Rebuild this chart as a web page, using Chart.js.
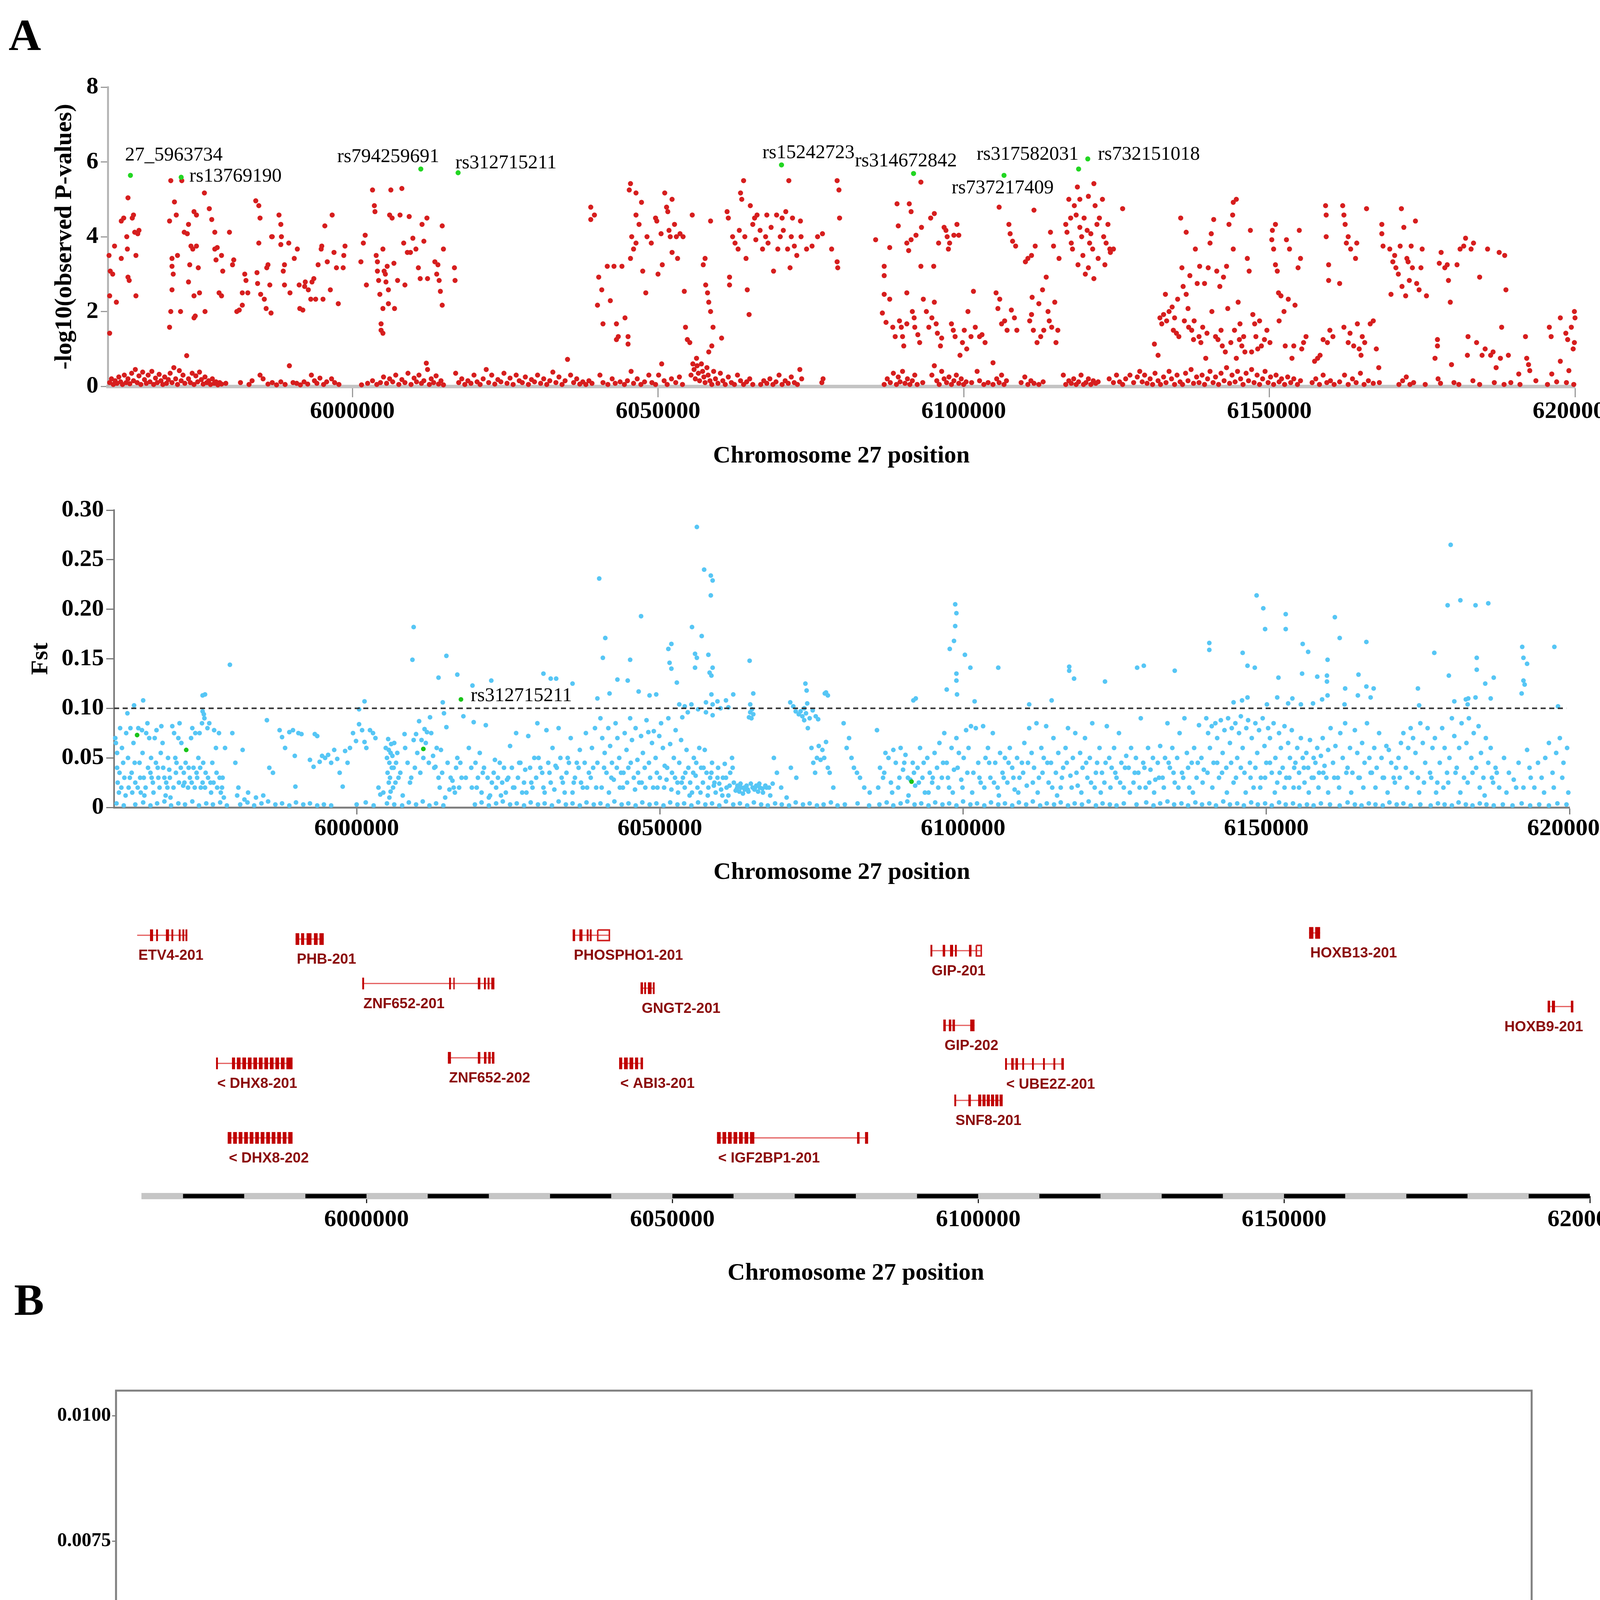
<!DOCTYPE html>
<html>
<head>
<meta charset="utf-8">
<script src="https://cdn.jsdelivr.net/npm/chart.js@4.4.1/dist/chart.umd.min.js"></script>
<style>
  body { margin: 0; background: #fff; width: 4341px; height: 5132px; position: relative; overflow: hidden; }
  canvas { position: absolute; left: 0; }
  .tag { position: absolute; font: bold 115px "Liberation Serif", serif; line-height: 115px; }
</style>
</head>
<body>
<div class="tag" style="left:22px;top:32px">A</div>
<div class="tag" style="left:36px;top:3270px">B</div>
<canvas id="mh" width="4341" height="1250" style="top:0;width:4341px;height:1250px"></canvas>
<canvas id="fst" width="4341" height="1050" style="top:1250px;width:4341px;height:1050px"></canvas>
<canvas id="genes" width="4341" height="1000" style="top:2300px;width:4341px;height:1000px"></canvas>
<canvas id="pi" width="4341" height="1832" style="top:3300px;width:4341px;height:1832px"></canvas>
<script>
// ---------- data (positions in kb on chromosome 27) ----------
const posTicks = [6000000, 6050000, 6100000, 6150000, 6200000];

// labelled SNPs in the association panel
const snpIds = ['27_5963734', 'rs13769190', 'rs794259691', 'rs312715211', 'rs15242723',
  'rs314672842', 'rs737217409', 'rs317582031', 'rs732151018'];
const snpKb = [5963.7, 5972.0, 6011.2, 6017.3, 6070.2, 6091.8, 6106.6, 6118.8, 6120.3];
const snpLogP = [5.64, 5.59, 5.81, 5.71, 5.92, 5.69, 5.64, 5.81, 6.08];

// -log10(p) of the other SNPs, signal part
const mhSignal = [
  [5960.2,3.5],[5960.4,3.08],[5960.8,3.0],[5960.3,1.42],[5960.3,2.42],[5961.1,3.75],[5961.4,2.25],[5962.2,3.42],[5962.2,4.42],[5962.6,4.5],[5963.1,4.0],[5963.2,3.67],[5963.3,5.04],[5963.3,2.92],[5963.5,2.83],[5964.0,4.5],[5964.2,4.58],[5964.4,4.12],[5964.9,4.08],[5964.6,3.5],[5964.6,2.42],[5965.1,4.17],
  [5970.1,4.42],[5970.3,5.5],[5970.9,4.93],[5971.2,4.58],[5970.5,3.42],[5970.5,3.21],[5970.7,3.0],[5970.5,2.58],[5970.3,2.0],[5970.1,1.58],[5971.4,3.5],[5971.9,2.0],[5972.1,5.5],[5972.5,4.12],[5973.0,4.08],[5973.2,4.33],[5973.2,2.79],[5973.4,3.25],[5973.6,3.75],[5973.9,3.67],[5974.1,4.67],[5974.1,2.42],[5974.3,1.88],[5974.1,1.83],[5974.5,4.58],[5974.8,3.17],[5975.0,2.5],[5974.5,3.75],[5975.8,5.17],[5975.9,2.0],[5976.6,4.75],[5977.0,4.46],[5977.5,4.12],[5977.5,3.67],[5977.9,3.71],[5977.7,3.38],[5978.6,3.5],[5978.2,2.5],[5978.6,2.42],[5978.8,3.08],[5979.9,4.12],[5980.4,3.25],[5980.6,3.38],[5981.1,2.0],[5981.5,2.04],[5982.0,2.17],[5982.0,2.5],[5982.4,3.0],[5982.6,2.83],[5982.9,2.5],[5984.2,4.96],[5984.7,4.83],[5984.9,4.5],[5984.7,3.83],[5984.4,3.04],[5984.5,2.75],[5985.0,2.46],[5985.6,2.33],[5985.9,2.08],[5986.0,3.17],[5986.2,3.25],[5986.7,1.96],[5986.5,2.71],[5986.8,4.0],[5986.9,4.0],[5988.0,4.58],[5988.3,4.33],[5988.4,4.0],[5988.3,3.79],[5988.7,3.08],[5988.9,2.71],[5988.9,3.25],[5989.6,3.83],[5989.8,2.5],[5990.5,3.42],[5991.0,3.67],[5991.3,2.71],[5991.4,2.08],[5991.9,2.04],[5992.2,2.67],[5992.3,2.79],[5992.8,2.58],[5993.2,2.33],[5993.4,2.79],[5993.7,2.88],[5994.0,2.33],[5994.4,3.25],[5994.9,3.67],[5995.0,3.75],[5995.2,2.33],[5995.5,4.29],[5995.9,3.33],[5996.4,2.58],[5996.7,4.58],[5997.0,3.58],[5997.4,3.17],[5997.7,2.21],[5998.5,3.17],[5998.6,3.5],[5998.8,3.75],
  [6001.4,3.33],[6001.8,3.83],[6002.1,4.04],[6002.3,2.71],[6003.3,5.25],[6003.6,4.83],[6003.7,4.67],[6003.9,3.5],[6004.1,3.33],[6004.1,3.08],[6004.3,2.83],[6004.5,2.46],[6004.7,1.67],[6004.7,1.5],[6005.0,1.42],[6005.0,2.08],[6005.0,3.67],[6005.2,3.08],[6005.4,3.0],[6005.5,2.79],[6005.7,3.21],[6005.9,2.58],[6005.9,2.21],[6006.1,4.58],[6006.3,5.25],[6006.5,4.5],[6006.8,3.29],[6006.9,2.08],[6007.4,2.83],[6008.1,5.29],[6007.8,4.58],[6008.4,3.83],[6008.6,2.71],[6009.0,3.58],[6009.3,4.54],[6009.5,3.58],[6009.9,3.96],[6010.4,3.67],[6010.8,3.17],[6011.1,2.88],[6011.4,4.33],[6011.7,3.88],[6012.2,4.5],[6012.3,2.88],[6013.5,3.33],[6013.8,3.0],[6014.0,3.25],[6014.2,2.83],[6014.4,2.54],[6014.7,2.17],[6014.7,4.29],[6014.9,3.67],[6016.7,3.17],[6016.8,2.83],
  [6039.0,4.79],[6039.0,4.46],[6039.6,4.58],[6040.1,2.17],[6040.3,2.92],[6040.8,2.58],[6041.0,1.67],[6042.2,2.29],[6041.7,3.21],[6042.8,3.21],[6043.2,1.67],[6043.2,1.25],[6043.5,1.33],[6044.1,3.21],[6044.6,1.83],[6045.1,1.33],[6045.1,1.13],[6045.3,5.25],[6045.5,5.42],[6045.5,3.42],[6045.7,4.0],[6046.0,3.67],[6046.4,5.17],[6046.4,4.58],[6046.4,3.83],[6046.9,4.33],[6047.3,4.92],[6047.5,3.08],[6048.0,2.5],[6048.2,4.0],[6048.9,3.83],[6049.6,4.5],[6049.8,4.42],[6050.0,3.0],[6050.5,4.08],[6050.7,3.25],[6051.1,5.17],[6051.4,4.79],[6051.6,4.67],[6051.8,4.17],[6052.0,4.0],[6052.3,3.58],[6052.3,5.0],[6052.7,4.33],[6053.0,4.0],[6053.2,3.42],[6053.6,4.08],[6054.1,4.0],[6054.3,2.54],[6054.5,1.58],[6054.8,1.25],[6055.2,1.17],[6055.6,4.58],[6056.3,0.75],[6057.7,3.42],[6057.4,3.25],[6057.8,2.71],[6058.1,2.5],[6058.3,2.25],[6058.6,2.0],[6058.6,4.42],[6059.0,1.58],[6058.8,1.08],[6058.3,0.92],[6060.4,1.29],[6061.3,4.67],[6061.5,4.5],[6061.7,2.92],[6061.7,2.71],[6062.2,4.0],[6062.6,3.83],[6063.1,3.67],[6063.3,4.17],[6063.5,5.17],[6063.7,5.0],[6064.0,5.5],[6064.2,4.0],[6064.4,3.42],[6064.6,2.58],[6064.9,1.92],[6065.1,4.83],[6065.5,4.33],[6065.8,4.5],[6066.0,3.92],[6066.2,4.58],[6066.7,4.17],[6067.1,3.67],[6067.6,4.0],[6067.8,4.58],[6068.0,3.83],[6068.5,4.25],[6068.9,3.08],[6069.4,4.58],[6069.6,3.67],[6070.0,4.0],[6070.3,4.5],[6070.5,4.17],[6070.9,4.67],[6071.2,3.67],[6071.4,5.5],[6071.6,3.17],[6071.8,4.0],[6072.0,4.5],[6072.3,3.75],[6072.7,3.5],[6073.3,4.42],[6073.4,4.0],[6074.3,3.67],[6075.2,3.75],[6076.1,4.0],[6076.9,4.08],[6078.4,3.67],[6079.3,5.5],[6079.6,5.25],[6079.7,4.5],[6079.3,3.33],[6079.4,3.17],
  [6085.6,3.92],[6087.0,3.21],[6087.0,2.96],[6087.0,2.46],[6086.7,1.96],[6087.3,1.71],[6087.9,2.33],[6087.9,3.71],[6088.4,1.58],[6088.8,1.33],[6089.1,4.88],[6089.3,4.29],[6089.5,1.75],[6089.8,1.58],[6090.0,1.33],[6090.2,1.08],[6090.7,3.83],[6090.7,2.5],[6090.7,1.67],[6091.0,3.63],[6091.1,4.88],[6091.4,4.67],[6091.4,3.92],[6091.6,2.0],[6091.9,1.83],[6092.0,1.58],[6092.2,4.04],[6092.5,1.38],[6092.8,1.17],[6093.0,3.21],[6093.0,5.46],[6093.1,4.25],[6093.4,2.33],[6093.9,2.0],[6094.3,1.58],[6094.6,4.5],[6094.8,1.83],[6095.1,3.21],[6095.2,2.25],[6095.2,4.62],[6095.5,1.67],[6095.7,1.42],[6095.9,3.83],[6096.2,1.08],[6096.4,1.29],[6096.8,4.25],[6097.1,4.17],[6097.3,4.0],[6097.5,3.67],[6097.7,3.83],[6098.0,1.67],[6098.3,1.5],[6098.4,4.04],[6098.6,1.33],[6098.9,4.33],[6099.2,4.04],[6099.4,0.83],[6099.8,1.17],[6100.1,1.5],[6100.5,1.0],[6100.7,2.0],[6101.2,1.33],[6101.6,2.54],[6101.9,1.58],[6102.6,1.33],[6103.0,1.38],[6103.5,1.17],
  [6104.8,0.63],[6105.3,2.5],[6105.8,4.79],[6105.6,2.08],[6105.9,2.33],[6106.2,1.67],[6106.7,1.75],[6107.1,1.5],[6107.4,4.33],[6107.6,4.08],[6107.8,2.04],[6108.0,3.88],[6108.3,1.83],[6108.5,3.75],[6108.7,1.5],
  [6110.1,3.33],[6110.5,3.42],[6110.8,1.75],[6111.1,1.92],[6111.2,2.38],[6111.1,3.5],[6111.4,1.5],[6111.5,4.71],[6111.7,3.75],[6112.0,1.17],[6112.3,2.21],[6112.6,1.33],[6112.9,2.58],[6113.1,1.5],[6113.5,2.92],[6113.8,2.0],[6114.0,1.75],[6114.2,4.12],[6114.4,1.58],[6114.7,3.75],[6114.9,2.25],[6115.1,1.17],[6115.4,1.5],[6115.6,3.42],
  [6116.7,4.33],[6116.9,4.12],[6117.2,5.0],[6117.5,4.5],[6117.6,3.83],[6117.8,3.67],[6118.1,4.83],[6118.4,4.58],[6118.6,5.33],[6118.7,3.25],[6119.0,5.0],[6119.0,4.25],[6119.3,4.0],[6119.5,3.5],[6119.7,4.5],[6119.9,3.0],[6120.2,4.17],[6120.4,5.08],[6120.4,3.17],[6120.6,3.83],[6120.8,4.08],[6121.1,3.67],[6121.3,5.42],[6121.3,2.88],[6121.5,4.83],[6121.8,4.33],[6122.0,3.42],[6122.2,4.5],[6122.7,5.0],[6122.9,4.0],[6123.1,3.25],[6123.3,3.83],[6123.6,4.33],[6123.9,3.67],[6124.0,3.58],[6124.5,3.67],[6126.0,4.75],
  [6131.2,1.13],[6131.8,0.83],[6132.1,1.83],[6132.4,1.67],[6132.7,1.92],[6133.0,2.46],[6133.2,1.75],[6133.6,2.0],[6134.1,2.12],[6134.3,1.5],[6134.5,1.83],[6134.8,1.42],[6135.0,2.33],[6135.2,1.33],[6135.5,4.5],[6135.7,3.17],[6135.9,2.67],[6136.1,1.75],[6136.4,4.12],[6136.4,2.46],[6136.7,2.08],[6136.8,1.58],[6137.0,2.96],[6137.3,1.5],[6137.6,1.25],[6137.7,1.75],[6137.9,3.67],[6138.2,2.75],[6138.5,1.33],[6138.6,3.21],[6138.8,1.17],[6139.1,1.58],[6139.4,2.75],[6139.6,0.75],[6139.8,1.42],[6140.0,3.17],[6140.3,3.83],[6140.5,4.08],[6140.6,2.0],[6140.9,4.46],[6141.2,1.33],[6141.4,3.08],[6141.6,1.25],[6141.9,2.67],[6142.1,1.5],[6142.3,1.08],[6142.5,2.92],[6142.8,0.92],[6143.0,3.21],[6143.2,2.08],[6143.4,4.33],[6143.7,1.17],[6144.0,4.58],[6144.1,4.92],[6144.1,3.67],[6144.3,1.5],[6144.6,5.0],[6144.6,0.75],[6144.9,2.25],[6145.1,1.25],[6145.2,1.67],[6145.5,1.08],[6145.8,1.33],[6146.0,0.92],[6146.4,3.42],[6146.7,3.08],[6146.9,4.17],[6147.1,0.92],[6147.3,1.92],[6147.6,1.67],[6147.8,1.33],[6148.1,1.0],[6148.4,1.75],[6148.7,1.08],[6149.2,1.25],[6149.6,1.5],[6150.1,1.17],[6150.4,3.92],[6150.5,4.17],[6150.7,3.67],[6151.0,4.33],[6151.0,3.25],[6151.3,3.08],[6151.5,2.5],[6151.6,1.75],[6151.9,2.42],[6152.4,2.0],[6152.6,1.08],[6152.8,3.92],[6153.1,2.33],[6153.3,3.67],[6153.7,0.75],[6154.0,1.08],[6154.2,2.17],[6154.7,3.17],[6154.9,4.17],[6155.1,3.42],[6155.3,1.0],[6155.6,1.17],[6156.0,1.33],
  [6157.4,0.67],[6157.9,0.75],[6158.3,0.83],[6158.8,1.25],[6159.2,4.83],[6159.3,4.58],[6159.3,4.0],[6159.5,1.17],[6159.7,3.25],[6159.7,2.83],[6159.9,1.5],[6160.4,1.33],[6161.5,2.75],[6162.0,4.83],[6162.2,1.58],[6162.2,4.58],[6162.4,4.33],[6162.6,3.83],[6162.9,4.0],[6162.9,1.17],[6163.2,1.42],[6163.3,3.67],[6163.8,1.08],[6164.1,3.42],[6164.3,3.83],[6164.4,1.67],[6164.7,1.0],[6165.0,0.83],[6165.2,1.33],[6165.6,1.17],[6165.9,4.75],[6166.5,1.67],[6167.0,1.75],[6167.5,1.0],[6167.9,0.5],[6168.4,4.33],[6168.4,4.08],[6168.6,3.75],[6169.7,3.67],[6169.9,2.46],[6170.2,3.33],[6170.5,3.5],[6170.7,3.17],[6171.1,3.0],[6171.4,3.75],[6171.6,4.75],[6171.7,2.67],[6172.0,4.25],[6172.3,2.42],[6172.5,3.42],[6172.7,3.33],[6172.9,2.83],[6173.2,3.75],[6173.4,3.17],[6173.9,4.42],[6174.1,2.75],[6174.5,2.58],[6174.8,3.17],[6175.0,3.67],[6175.7,2.42],[6177.1,0.75],[6177.5,1.25],[6177.5,1.08],[6177.8,3.29],[6178.1,3.58],[6178.7,3.17],[6179.1,3.25],[6179.3,2.83],[6179.6,2.25],[6179.8,0.58],[6180.7,3.25],[6181.2,3.67],[6181.8,3.75],[6182.1,3.96],[6182.4,0.83],[6182.5,1.33],[6183.0,3.67],[6183.4,3.83],[6183.9,1.17],[6184.4,2.92],[6184.8,0.83],[6185.3,1.0],[6185.7,3.67],[6186.2,0.83],[6186.6,0.92],[6187.1,0.5],[6187.6,3.58],[6187.8,0.75],[6188.0,1.58],[6188.5,3.5],[6188.7,2.58],[6189.1,0.83],[6190.8,0.33],[6191.9,1.33],[6192.1,0.75],[6192.4,0.58],[6192.6,0.42],[6195.8,1.58],[6196.1,1.33],[6196.2,0.33],[6197.6,1.83],[6197.6,0.67],[6198.5,1.42],[6198.8,1.25],[6199.0,0.42],[6199.4,1.58],[6199.7,1.0],[6199.9,2.0],[6199.9,1.17],[6200.0,1.83]
];

// -log10(p) of the other SNPs, near-zero band
const mhBase = [
  [5960.3,0.1],[5960.6,0.2],[5960.9,0.05],[5961.2,0.15],[5961.5,0.08],[5961.8,0.25],[5962.1,0.12],[5962.4,0.05],[5962.7,0.3],[5963.0,0.1],[5963.3,0.2],[5963.6,0.07],[5963.9,0.35],[5964.2,0.15],[5964.5,0.45],[5964.8,0.1],[5965.1,0.28],[5965.4,0.05],[5965.7,0.38],[5966.0,0.18],[5966.3,0.08],[5966.6,0.3],[5966.9,0.12],[5967.2,0.4],[5967.5,0.05],[5967.8,0.22],[5968.1,0.1],[5968.4,0.32],[5968.7,0.15],[5969.0,0.05],[5969.3,0.25],[5969.6,0.08],[5969.9,0.18],[5970.2,0.35],[5970.5,0.1],[5970.8,0.5],[5971.1,0.2],[5971.4,0.05],[5971.7,0.42],[5972.0,0.15],[5972.3,0.3],[5972.6,0.08],[5972.9,0.82],[5973.2,0.2],[5973.5,0.1],[5973.8,0.35],[5974.1,0.05],[5974.4,0.28],[5974.7,0.12],[5975.0,0.38],[5975.3,0.18],[5975.6,0.06],[5975.9,0.25],[5976.2,0.1],[5976.5,0.15],[5976.8,0.05],[5977.1,0.2],[5977.4,0.08],[5977.7,0.12],[5978.0,0.04],[5978.3,0.1],[5978.6,0.06],[5979.3,0.08],
  [5981.7,0.1],[5983.1,0.05],[5983.6,0.15],[5984.9,0.3],[5985.4,0.2],[5986.2,0.06],[5986.9,0.1],[5987.6,0.04],[5988.3,0.12],[5989.0,0.05],[5989.7,0.55],[5990.3,0.1],[5990.9,0.08],[5991.5,0.04],[5992.1,0.12],[5992.7,0.06],[5993.3,0.3],[5993.8,0.15],[5994.2,0.08],[5994.7,0.22],[5995.3,0.05],[5995.8,0.12],[5996.6,0.2],[5997.1,0.1],[5997.8,0.05],
  [6001.5,0.04],[6002.5,0.08],[6003.3,0.15],[6004.0,0.05],[6004.6,0.1],[6005.1,0.25],[6005.6,0.08],[6006.1,0.2],[6006.6,0.12],[6007.1,0.3],[6007.6,0.05],[6008.1,0.18],[6008.6,0.1],[6009.1,0.35],[6009.6,0.05],[6010.1,0.22],[6010.5,0.12],[6010.9,0.3],[6011.3,0.08],[6011.7,0.15],[6012.1,0.62],[6012.3,0.45],[6012.6,0.05],[6012.9,0.2],[6013.3,0.1],[6013.7,0.28],[6014.1,0.06],[6014.5,0.15],[6014.9,0.04],
  [6016.9,0.35],[6017.4,0.1],[6017.9,0.2],[6018.4,0.05],[6018.9,0.15],[6019.4,0.08],[6019.9,0.3],[6020.4,0.12],[6020.9,0.05],[6021.4,0.2],[6021.9,0.45],[6022.3,0.1],[6022.8,0.3],[6023.3,0.06],[6023.8,0.18],[6024.3,0.12],[6024.8,0.35],[6025.3,0.08],[6025.8,0.22],[6026.3,0.05],[6026.8,0.3],[6027.3,0.15],[6027.8,0.1],[6028.3,0.25],[6028.8,0.05],[6029.3,0.18],[6029.8,0.12],[6030.3,0.3],[6030.8,0.08],[6031.3,0.2],[6031.8,0.05],[6032.3,0.15],[6032.8,0.38],[6033.3,0.1],[6033.8,0.25],[6034.3,0.05],[6034.8,0.15],[6035.2,0.72],[6035.7,0.3],[6036.2,0.1],[6036.7,0.2],[6037.2,0.06],[6037.7,0.12],[6038.2,0.05],[6038.7,0.15],[6039.2,0.08],
  [6040.5,0.3],[6041.0,0.1],[6041.8,0.05],[6042.5,0.2],[6043.0,0.08],[6043.8,0.12],[6044.5,0.05],[6045.0,0.15],[6045.6,0.4],[6046.0,0.08],[6046.6,0.2],[6047.2,0.05],[6047.8,0.12],[6048.5,0.3],[6049.0,0.1],[6049.6,0.05],[6050.1,0.3],[6050.6,0.6],[6051.0,0.15],[6051.5,0.05],[6052.2,0.2],[6052.9,0.1],[6053.5,0.25],[6054.0,0.05],
  [6055.4,0.3],[6055.7,0.6],[6055.9,0.45],[6056.1,0.2],[6056.4,0.55],[6056.6,0.35],[6056.8,0.15],[6057.1,0.6],[6057.3,0.4],[6057.5,0.25],[6057.7,0.1],[6058.0,0.5],[6058.2,0.3],[6058.5,0.15],[6058.8,0.05],[6059.1,0.4],[6059.4,0.2],[6059.8,0.08],[6060.2,0.35],[6060.6,0.15],[6061.0,0.05],[6061.5,0.25],[6062.0,0.1],[6062.5,0.05],[6063.0,0.3],[6063.5,0.15],[6064.0,0.05],[6064.5,0.12],[6065.0,0.2],[6065.5,0.05],
  [6066.8,0.05],[6067.3,0.15],[6067.8,0.08],[6068.3,0.2],[6068.8,0.05],[6069.3,0.12],[6069.8,0.3],[6070.3,0.05],[6070.8,0.15],[6071.3,0.08],[6071.8,0.25],[6072.3,0.1],[6072.8,0.05],[6073.2,0.45],[6073.5,0.2],[6076.8,0.1],[6077.0,0.2],
  [6087.0,0.05],[6087.5,0.2],[6088.0,0.1],[6088.5,0.35],[6089.0,0.05],[6089.3,0.25],[6089.6,0.12],[6090.0,0.4],[6090.4,0.08],[6090.8,0.2],[6091.2,0.05],[6091.6,0.15],[6092.0,0.3],[6092.4,0.05],[6093.3,0.1],
  [6094.8,0.3],[6095.2,0.55],[6095.6,0.15],[6096.0,0.05],[6096.4,0.4],[6096.8,0.2],[6097.2,0.1],[6097.6,0.25],[6098.0,0.05],[6098.4,0.15],[6098.8,0.3],[6099.2,0.08],[6099.6,0.2],[6100.0,0.05],[6100.4,0.12],[6101.3,0.1],[6102.2,0.4],[6102.6,0.15],[6103.3,0.05],[6104.0,0.1],[6104.8,0.05],
  [6105.4,0.2],[6105.8,0.1],[6106.2,0.3],[6106.6,0.05],[6107.0,0.15],[6109.4,0.1],[6110.0,0.25],[6110.5,0.05],[6111.0,0.15],[6111.5,0.08],[6112.3,0.05],[6113.0,0.12],
  [6116.3,0.3],[6116.7,0.05],[6117.2,0.15],[6117.6,0.08],[6118.0,0.2],[6118.4,0.05],[6118.8,0.12],[6119.2,0.3],[6119.6,0.05],[6120.0,0.1],[6120.4,0.2],[6120.8,0.05],[6121.2,0.15],[6121.6,0.08],[6122.0,0.12],
  [6123.8,0.2],[6124.5,0.1],[6125.0,0.3],[6125.5,0.12],[6126.0,0.05],[6126.5,0.2],[6127.2,0.3],[6127.8,0.1],[6128.4,0.25],[6128.8,0.4],[6129.2,0.12],[6129.6,0.3],[6130.0,0.08],[6130.5,0.2],[6130.9,0.05],[6131.3,0.35],[6131.8,0.15],[6132.2,0.05],[6132.7,0.25],[6133.1,0.1],[6133.6,0.4],[6134.0,0.2],[6134.5,0.05],[6134.9,0.3],[6135.4,0.12],[6135.8,0.05],[6136.3,0.35],[6136.7,0.15],[6137.2,0.45],[6137.6,0.08],[6138.1,0.25],[6138.5,0.1],[6139.0,0.3],[6139.4,0.05],[6139.9,0.2],[6140.3,0.4],[6140.8,0.1],[6141.2,0.25],[6141.7,0.05],[6142.1,0.35],[6142.6,0.15],[6143.0,0.5],[6143.5,0.08],[6143.9,0.3],[6144.4,0.12],[6144.8,0.4],[6145.3,0.2],[6145.7,0.05],[6146.2,0.35],[6146.6,0.15],[6147.1,0.45],[6147.5,0.1],[6148.0,0.3],[6148.4,0.05],[6148.9,0.2],[6149.3,0.4],[6149.8,0.1],[6150.2,0.25],[6150.7,0.05],[6151.1,0.3],[6151.6,0.12],[6152.0,0.2],[6152.5,0.05],[6153.0,0.25],[6153.5,0.1],[6154.0,0.2],[6154.6,0.05],[6155.1,0.15],
  [6157.0,0.1],[6157.6,0.2],[6158.2,0.05],[6158.8,0.3],[6159.4,0.1],[6160.0,0.15],[6160.6,0.05],[6161.5,0.12],[6162.3,0.3],[6162.9,0.05],[6163.6,0.2],[6164.2,0.1],[6164.9,0.35],[6165.5,0.05],[6166.2,0.15],[6167.0,0.08],[6168.0,0.1],
  [6171.2,0.05],[6171.8,0.15],[6172.4,0.25],[6173.0,0.05],[6173.6,0.1],[6175.5,0.05],[6177.6,0.2],[6178.0,0.08],[6180.2,0.1],[6181.0,0.05],[6183.3,0.15],[6184.4,0.05],[6186.8,0.1],[6188.4,0.05],[6189.5,0.1],[6191.0,0.05],[6193.6,0.15],[6195.5,0.05],[6197.0,0.12],[6198.6,0.1],[6199.8,0.05]
];

// Fst: highlighted SNPs
const fstHitKb = [5963.8, 5971.9, 6011.0, 6017.2, 6091.5];
const fstHitVal = [0.073, 0.058, 0.059, 0.109, 0.026];
const fstHitIds = ['', '', '', 'rs312715211', ''];
const fstThreshold = 0.10;

// Fst: SNPs above or around the threshold
const fstHigh = [
  [5979.1,0.144],[6009.4,0.182],[6009.2,0.149],[6014.8,0.153],[6013.5,0.131],[6016.6,0.134],[6019.1,0.123],[6022.2,0.128],[6030.8,0.135],[6032.0,0.130],[6032.9,0.130],[6035.6,0.125],[6040.0,0.231],[6041.0,0.171],[6040.6,0.151],[6045.1,0.149],[6043.0,0.129],[6044.7,0.128],[6046.5,0.117],[6041.7,0.115],[6039.7,0.110],[6048.3,0.113],[6049.4,0.114],[6046.9,0.193],
  [6055.3,0.182],[6056.1,0.283],[6056.9,0.173],[6057.3,0.240],[6058.4,0.234],[6058.7,0.229],[6058.4,0.214],[6055.8,0.155],[6056.1,0.151],[6055.8,0.141],[6058.0,0.154],[6058.2,0.136],[6058.5,0.133],[6058.7,0.141],[6051.9,0.165],[6051.4,0.160],[6051.6,0.146],[6051.9,0.140],[6052.8,0.126],[6058.5,0.114],[6062.1,0.114],[6064.8,0.148],[6065.4,0.115],[6074.0,0.125],[6074.2,0.118],[6077.2,0.115],[6077.7,0.113],
  [5974.6,0.113],[5975.0,0.114],[5964.8,0.108],[5963.3,0.103],[6001.3,0.107],[6000.4,0.099],[6014.2,0.106],
  [6180.4,0.265],[6098.7,0.205],[6098.9,0.196],[6098.7,0.183],[6098.5,0.168],[6097.8,0.160],[6100.3,0.154],[6098.9,0.135],[6098.9,0.128],[6101.2,0.141],[6097.3,0.119],[6099.0,0.114],[6101.9,0.107],[6105.8,0.141],[6117.5,0.142],[6117.5,0.138],[6118.3,0.130],[6123.4,0.127],[6128.7,0.141],[6129.8,0.143],[6134.9,0.138],[6110.9,0.104],[6114.6,0.108],[6091.8,0.108],[6092.2,0.110],
  [6140.6,0.166],[6140.6,0.159],[6146.1,0.156],[6146.9,0.143],[6148.1,0.141],[6148.4,0.214],[6149.5,0.201],[6149.8,0.180],[6153.2,0.195],[6153.2,0.180],[6156.0,0.165],[6156.9,0.157],[6160.1,0.149],[6155.9,0.135],[6158.4,0.132],[6160.0,0.133],[6160.0,0.127],[6152.0,0.131],[6161.3,0.192],[6162.1,0.171],[6166.5,0.167],[6165.2,0.134],[6163.0,0.120],[6166.5,0.122],[6167.7,0.120],[6175.0,0.120],[6175.2,0.103],
  [6177.7,0.156],[6180.1,0.133],[6184.7,0.151],[6184.7,0.139],[6186.1,0.125],[6187.5,0.131],[6179.9,0.204],[6182.0,0.209],[6184.5,0.204],[6186.6,0.206],[6192.2,0.162],[6192.4,0.151],[6193.0,0.145],[6192.4,0.128],[6192.6,0.124],[6192.1,0.115],[6197.5,0.162],[6198.1,0.102],
  [6053.2,0.104],[6054.1,0.102],[6055.2,0.104],[6056.3,0.099],[6057.6,0.106],[6058.7,0.104],[6059.5,0.107],[6060.0,0.100],[6060.9,0.108],[6061.3,0.101],[6054.6,0.096],[6057.6,0.096],[6058.7,0.093],[6053.7,0.091],[6064.9,0.104],[6065.2,0.099],[6065.4,0.094],[6064.7,0.091],[6071.5,0.106],[6072.0,0.102],[6072.4,0.097],[6072.9,0.094],[6073.8,0.100],[6074.3,0.105],[6075.2,0.098],[6075.7,0.092],[6076.1,0.089],[5974.6,0.097],[5974.8,0.094],
  [6144.6,0.106],[6146.0,0.108],[6146.9,0.111],[6150.1,0.104],[6151.8,0.111],[6153.6,0.105],[6154.3,0.110],[6155.7,0.104],[6157.7,0.105],[6159.2,0.109],[6160.1,0.113],[6162.9,0.104],[6165.1,0.113],[6167.2,0.111],[6181.0,0.107],[6182.9,0.109],[6183.3,0.110],[6184.5,0.111],[6187.0,0.110],[6183.2,0.104],[6077.4,0.116]
];

// Fst: SNPs below the threshold
const fstLow = [
  [5960.2,0.07],[5960.3,0.065],[5960.5,0.04],[5960.6,0.025],[5960.8,0.015],[5961.0,0.08],[5961.2,0.02],[5961.5,0.045],[5961.7,0.03],[5962.0,0.075],[5962.2,0.095],[5962.4,0.02],[5962.7,0.08],[5962.9,0.035],[5963.2,0.065],[5963.5,0.025],[5964.0,0.08],[5964.2,0.045],[5964.4,0.015],[5964.6,0.078],[5964.9,0.03],[5965.2,0.02],[5965.3,0.075],[5965.5,0.085],[5965.8,0.07],[5966.0,0.035],[5966.2,0.03],[5966.4,0.025],[5966.7,0.07],[5967.0,0.078],[5967.2,0.04],[5967.5,0.02],[5967.8,0.082],[5968.0,0.065],[5968.3,0.03],[5968.6,0.025],[5968.8,0.02],[5969.1,0.038],[5969.3,0.01],[5969.6,0.082],[5969.9,0.075],[5970.1,0.05],[5970.3,0.045],[5970.6,0.07],[5970.8,0.085],[5971.1,0.065],[5971.4,0.022],[5971.6,0.025],[5972.2,0.02],[5972.5,0.03],[5972.7,0.07],[5972.9,0.08],[5973.1,0.04],[5973.4,0.075],[5973.6,0.035],[5973.9,0.05],[5974.1,0.075],[5974.3,0.02],[5974.5,0.085],[5974.7,0.045],[5974.9,0.09],[5975.1,0.035],[5975.4,0.08],[5975.7,0.085],[5975.9,0.025],[5976.2,0.045],[5976.5,0.078],[5976.8,0.06],[5977.0,0.02],[5977.3,0.075],[5977.6,0.015],[5977.9,0.03],[5978.3,0.06],[5979.5,0.075],[5980.3,0.012],[5981.5,0.008],
  [5980.0,0.045],[5980.5,0.02],[5981.2,0.058],[5982.1,0.015],[5983.4,0.01],[5984.6,0.012],[5985.2,0.088],[5985.6,0.04],[5986.2,0.035],[5987.3,0.078],[5987.7,0.071],[5988.2,0.06],[5988.9,0.076],[5989.5,0.078],[5989.8,0.052],[5989.9,0.021],[5990.4,0.075],[5990.9,0.074],[5992.3,0.048],[5992.9,0.041],[5993.1,0.074],[5993.5,0.072],[5993.9,0.046],[5994.3,0.052],[5994.8,0.05],[5995.3,0.053],[5995.8,0.045],[5996.3,0.058],[5996.8,0.049],[5997.2,0.035],[5997.7,0.021],[5998.1,0.057],[5998.5,0.045],[5998.9,0.06],[5999.4,0.075],[5999.9,0.067],
  [6000.4,0.084],[6000.9,0.078],[6001.3,0.066],[6001.6,0.06],[6002.2,0.078],[6002.7,0.075],[6003.1,0.07],[6003.6,0.02],[6003.9,0.013],[6004.4,0.015],[6005.2,0.069],[6005.3,0.058],[6005.4,0.045],[6005.5,0.03],[6005.6,0.016],[6005.7,0.064],[6005.9,0.052],[6006.1,0.04],[6006.4,0.025],[6006.7,0.055],[6007.2,0.035],[6007.6,0.012],[6007.9,0.074],[6008.4,0.045],[6009.0,0.03],[6009.4,0.068],[6009.8,0.074],[6010.3,0.087],[6010.7,0.068],[6011.2,0.079],[6011.6,0.076],[6012.1,0.091],[6012.6,0.052],[6013.0,0.041],[6013.5,0.03],[6013.9,0.058],[6014.4,0.095],[6014.8,0.081],[6015.3,0.018],[6015.8,0.027],[6016.2,0.015],[6016.6,0.05],[6017.1,0.045],
  [6017.6,0.092],[6018.0,0.03],[6018.5,0.06],[6018.9,0.04],[6019.3,0.086],[6019.8,0.02],[6020.3,0.055],[6020.8,0.035],[6021.3,0.083],[6021.8,0.01],[6022.3,0.025],[6022.8,0.048],[6023.3,0.03],[6023.8,0.012],[6024.3,0.04],[6024.8,0.028],[6025.3,0.062],[6025.8,0.02],[6026.3,0.075],[6026.8,0.045],[6027.3,0.015],[6027.8,0.038],[6028.3,0.072],[6028.8,0.025],[6029.3,0.05],[6029.8,0.085],[6030.3,0.04],[6030.8,0.02],[6031.3,0.078],[6031.8,0.035],[6032.3,0.06],[6032.8,0.042],[6033.3,0.08],[6033.8,0.03],[6034.3,0.015],[6034.8,0.05],[6035.3,0.07],[6035.8,0.025],[6036.3,0.045],[6036.8,0.058],[6037.3,0.02],[6037.8,0.075],[6038.3,0.035],[6038.8,0.06],[6039.3,0.08],[6039.7,0.045],
  [6040.2,0.09],[6040.5,0.07],[6040.9,0.055],[6041.2,0.035],[6041.5,0.08],[6041.8,0.062],[6042.1,0.045],[6042.4,0.028],[6042.7,0.085],[6043.0,0.07],[6043.3,0.05],[6043.6,0.035],[6043.9,0.02],[6044.2,0.075],[6044.5,0.058],[6044.8,0.04],[6045.1,0.09],[6045.4,0.068],[6045.7,0.03],[6046.0,0.08],[6046.3,0.048],[6046.6,0.025],[6046.9,0.072],[6047.2,0.055],[6047.5,0.04],[6047.8,0.088],[6048.1,0.076],[6048.4,0.03],[6048.7,0.065],[6049.0,0.077],[6049.3,0.05],[6049.6,0.02],[6049.9,0.072],[6050.2,0.085],[6050.5,0.06],[6050.8,0.042],[6051.1,0.028],[6051.4,0.09],[6051.7,0.064],[6052.0,0.035],[6052.3,0.05],[6052.6,0.078],[6052.9,0.025],[6053.2,0.045],[6053.5,0.068],[6053.8,0.03],[6054.1,0.02],[6054.4,0.058],[6054.7,0.04],[6055.0,0.025],[6055.3,0.015],[6055.6,0.05],[6055.9,0.032],[6056.2,0.02],[6056.5,0.06],[6056.8,0.04],[6057.1,0.025],[6057.4,0.058],[6057.7,0.035],[6058.0,0.02],[6058.3,0.03],[6058.6,0.045],[6058.9,0.022],[6059.2,0.015],[6059.5,0.03],[6059.8,0.024],[6060.1,0.018],[6060.4,0.03],[6060.7,0.044],[6061.0,0.02],[6061.3,0.012],[6061.6,0.035],[6061.9,0.05],[6062.2,0.025],[6062.5,0.017],[6062.8,0.022],[6063.1,0.016],[6063.4,0.02],[6063.7,0.014],[6064.0,0.018],[6064.3,0.022],[6064.6,0.016],[6064.9,0.096],[6065.1,0.09],[6065.3,0.02],[6065.6,0.018],[6065.9,0.022],[6066.2,0.016],[6066.5,0.02],
  [6067.0,0.015],[6067.6,0.02],[6068.2,0.012],[6068.8,0.05],[6069.3,0.035],[6070.0,0.02],[6070.9,0.01],[6071.6,0.04],[6072.5,0.03],[6073.2,0.097],[6073.5,0.092],[6073.8,0.088],[6074.1,0.095],[6074.4,0.08],[6074.7,0.09],[6075.0,0.06],[6075.3,0.045],[6075.6,0.035],[6075.9,0.05],[6076.2,0.062],[6076.5,0.048],[6076.8,0.058],[6077.1,0.05],[6077.4,0.066],[6077.7,0.04],[6078.0,0.035],[6078.6,0.02],
  [6080.3,0.085],[6080.8,0.06],[6081.2,0.07],[6081.6,0.05],[6082.0,0.04],[6082.5,0.035],[6083.0,0.03],[6083.7,0.02],[6084.6,0.015],[6085.8,0.078],[6086.3,0.04],[6086.8,0.03],[6087.2,0.055],[6087.7,0.05],[6088.1,0.025],[6088.5,0.058],[6088.9,0.045],[6089.3,0.02],[6089.7,0.06],[6090.1,0.038],[6090.5,0.053],[6090.9,0.03],[6091.3,0.028],[6091.7,0.045],[6092.1,0.022],[6092.5,0.04],[6092.9,0.06],[6093.3,0.03],[6093.7,0.015],[6094.1,0.05],[6094.5,0.035],[6094.9,0.025],[6095.3,0.055],[6095.7,0.04],[6096.1,0.065],[6096.5,0.03],[6096.9,0.075],[6097.3,0.045],[6097.7,0.02],[6098.1,0.06],[6098.5,0.038],[6098.9,0.07],[6099.3,0.055],[6099.7,0.028],[6100.1,0.05],
  [6100.5,0.078],[6100.9,0.06],[6101.3,0.082],[6101.7,0.035],[6102.1,0.08],[6102.5,0.045],[6102.9,0.025],[6103.3,0.082],[6103.7,0.05],[6104.1,0.06],[6104.5,0.03],[6104.9,0.075],[6105.3,0.045],[6105.7,0.02],[6106.1,0.055],[6106.5,0.035],[6106.9,0.05],[6107.3,0.025],[6107.7,0.06],[6108.1,0.04],[6108.5,0.018],[6108.9,0.05],[6109.3,0.03],[6109.7,0.045],[6110.1,0.065],[6110.5,0.022],[6110.9,0.08],[6111.3,0.055],[6111.7,0.04],[6112.1,0.085],[6112.5,0.03],[6112.9,0.06],[6113.3,0.05],[6113.7,0.082],[6114.1,0.025],[6114.5,0.045],[6114.9,0.07],[6115.3,0.035],[6115.7,0.055],[6116.1,0.02],[6116.5,0.04],[6116.9,0.06],[6117.3,0.08],[6117.7,0.032],[6118.1,0.05],[6118.5,0.075],[6118.9,0.022],[6119.3,0.055],[6119.7,0.04],[6120.1,0.07],[6120.5,0.03],[6120.9,0.05],[6121.3,0.085],[6121.7,0.02],[6122.1,0.045],[6122.5,0.06],[6122.9,0.035],[6123.3,0.025],[6123.7,0.082],[6124.1,0.05],[6124.5,0.04],[6124.9,0.06],[6125.3,0.03],[6125.7,0.075],[6126.1,0.045],[6126.5,0.02],[6126.9,0.052],[6127.3,0.04],[6127.7,0.06],[6128.1,0.025],[6128.5,0.05],[6128.9,0.035],[6129.3,0.09],[6129.7,0.045],[6130.1,0.02],[6130.5,0.06],[6130.9,0.038],[6131.3,0.05],[6131.7,0.028],[6132.1,0.045],[6132.5,0.062],[6132.9,0.03],[6133.3,0.05],[6133.7,0.085],[6134.1,0.04],[6134.5,0.06],[6134.9,0.025],[6135.3,0.05],[6135.7,0.075],[6136.1,0.035],[6136.5,0.09],[6136.9,0.055],[6137.3,0.02],[6137.7,0.045],[6138.1,0.06],[6138.5,0.03],[6138.9,0.083],[6139.3,0.05],[6139.7,0.038],
  [6140.1,0.09],[6140.4,0.075],[6140.7,0.06],[6141.0,0.082],[6141.3,0.045],[6141.6,0.085],[6141.9,0.07],[6142.2,0.03],[6142.5,0.088],[6142.8,0.055],[6143.1,0.078],[6143.4,0.04],[6143.7,0.09],[6144.0,0.065],[6144.3,0.08],[6144.6,0.025],[6144.9,0.085],[6145.2,0.05],[6145.5,0.075],[6145.8,0.092],[6146.1,0.06],[6146.4,0.035],[6146.7,0.08],[6147.0,0.088],[6147.3,0.045],[6147.6,0.07],[6147.9,0.02],[6148.2,0.085],[6148.5,0.055],[6148.8,0.078],[6149.1,0.03],[6149.4,0.09],[6149.7,0.062],[6150.0,0.045],[6150.3,0.08],[6150.6,0.07],[6150.9,0.035],[6151.2,0.085],[6151.5,0.05],[6151.8,0.025],[6152.1,0.075],[6152.4,0.06],[6152.7,0.04],[6153.0,0.082],[6153.3,0.03],[6153.6,0.065],[6153.9,0.05],[6154.2,0.078],[6154.5,0.02],[6154.8,0.045],[6155.1,0.06],[6155.4,0.035],[6155.7,0.07],[6156.0,0.05],[6156.3,0.025],[6156.6,0.055],[6156.9,0.04],[6157.2,0.068],[6157.5,0.03],[6157.8,0.05],[6158.1,0.045],[6158.4,0.06],[6158.7,0.035],[6159.0,0.052],[6159.3,0.07],[6159.6,0.042],[6159.9,0.03],[6160.2,0.058],
  [6160.6,0.08],[6161.0,0.045],[6161.4,0.062],[6161.8,0.03],[6162.2,0.075],[6162.6,0.05],[6163.0,0.085],[6163.4,0.04],[6163.8,0.06],[6164.2,0.035],[6164.6,0.078],[6165.0,0.055],[6165.4,0.03],[6165.8,0.065],[6166.2,0.045],[6166.6,0.085],[6167.0,0.05],[6167.4,0.035],[6167.8,0.06],[6168.2,0.04],[6168.6,0.075],[6169.0,0.05],[6169.4,0.03],[6169.8,0.062],[6170.2,0.058],[6170.6,0.045],[6171.0,0.03],[6171.4,0.04],[6171.8,0.05],[6172.2,0.065],[6172.6,0.075],[6173.0,0.04],[6173.4,0.06],[6173.8,0.08],[6174.2,0.07],[6174.6,0.055],[6175.0,0.03],[6175.4,0.085],[6175.8,0.065],[6176.2,0.045],[6176.6,0.08],[6177.0,0.035],[6177.4,0.06],[6177.8,0.07],[6178.2,0.025],[6178.6,0.045],[6179.0,0.08],[6179.4,0.06],[6179.8,0.035],[6180.2,0.05],[6180.6,0.09],[6181.0,0.072],[6181.4,0.04],[6181.8,0.06],[6182.2,0.085],[6182.6,0.03],[6183.0,0.065],[6183.4,0.09],[6183.8,0.05],[6184.2,0.075],[6184.6,0.04],[6185.0,0.082],[6185.4,0.055],[6185.8,0.03],[6186.2,0.07],[6186.6,0.045],[6187.0,0.06],[6187.4,0.025],[6187.8,0.04],[6188.4,0.02],[6189.2,0.05],[6190.0,0.035],[6190.8,0.028],[6191.6,0.045],[6192.4,0.02],[6193.0,0.058],[6193.6,0.03],[6194.2,0.02],[6194.8,0.045],[6195.4,0.03],[6196.0,0.05],[6196.6,0.065],[6197.2,0.035],[6197.8,0.055],[6198.4,0.07],[6199.0,0.045],[6199.6,0.06]
];

// Fst: more SNPs in the dense low range (0.01 - 0.06)
const fstLowDense = [
  [5960.5,0.055],[5960.9,0.035],[5961.3,0.06],[5961.9,0.012],[5962.3,0.05],[5962.6,0.03],[5963.0,0.015],[5963.4,0.045],[5963.9,0.02],[5964.3,0.03],[5964.7,0.055],[5965.0,0.012],[5965.6,0.04],[5966.1,0.05],[5966.5,0.015],[5966.9,0.045],[5967.3,0.03],[5967.7,0.055],[5968.1,0.04],[5968.5,0.012],[5968.9,0.05],[5969.2,0.03],[5969.8,0.02],[5970.2,0.035],[5970.7,0.025],[5971.0,0.04],[5971.5,0.035],[5971.8,0.045],[5972.3,0.04],[5972.8,0.025],[5973.3,0.02],[5973.7,0.03],[5974.2,0.04],[5974.6,0.025],[5975.0,0.02],[5975.5,0.03],[5976.0,0.015],[5976.4,0.025],[5976.9,0.035],[5977.4,0.03],[5977.8,0.02],[5978.1,0.01],
  [6004.8,0.06],[6005.0,0.05],[6005.1,0.035],[6005.3,0.025],[6005.4,0.01],[6005.6,0.055],[6005.8,0.04],[6006.0,0.02],[6006.2,0.065],[6006.5,0.045],[6006.9,0.03],[6008.0,0.06],[6008.8,0.025],[6009.6,0.04],[6010.0,0.055],[6010.5,0.035],[6011.0,0.05],[6011.4,0.065],[6011.9,0.045],[6012.3,0.075],[6012.8,0.04],[6013.2,0.06],[6013.7,0.02],[6014.1,0.035],[6014.6,0.01],[6015.0,0.045],[6015.5,0.03],[6016.0,0.02],[6016.4,0.04],[6016.9,0.02],[6017.3,0.03],
  [6019.0,0.02],[6019.6,0.045],[6020.0,0.03],[6020.6,0.015],[6021.0,0.04],[6021.6,0.03],[6022.0,0.012],[6022.6,0.035],[6023.0,0.02],[6023.6,0.045],[6024.0,0.025],[6024.6,0.015],[6025.0,0.03],[6025.6,0.04],[6026.0,0.02],[6026.6,0.03],[6027.0,0.045],[6027.6,0.025],[6028.0,0.015],[6028.6,0.04],[6029.0,0.02],[6029.6,0.03],[6030.0,0.05],[6030.6,0.035],[6031.0,0.015],[6031.6,0.045],[6032.0,0.025],[6032.6,0.018],[6033.0,0.04],[6033.6,0.05],[6034.0,0.025],[6034.6,0.035],[6035.0,0.045],[6035.6,0.015],[6036.0,0.03],[6036.6,0.04],[6037.0,0.025],[6037.6,0.045],[6038.0,0.02],[6038.6,0.03],[6039.0,0.04],[6039.5,0.02],
  [6040.4,0.02],[6040.8,0.04],[6041.6,0.015],[6042.0,0.03],[6042.9,0.04],[6043.4,0.02],[6044.0,0.035],[6044.6,0.025],[6045.2,0.045],[6045.9,0.018],[6046.4,0.035],[6047.0,0.025],[6047.6,0.02],[6048.2,0.045],[6048.9,0.02],[6049.5,0.035],[6050.0,0.03],[6050.7,0.02],[6051.2,0.04],[6051.9,0.018],[6052.5,0.03],[6053.0,0.015],[6053.6,0.025],[6054.2,0.035],[6054.9,0.012],[6055.5,0.035],[6056.0,0.045],[6056.7,0.015],[6057.2,0.04],[6057.9,0.012],[6058.5,0.035],[6059.0,0.025],[6059.6,0.04],[6060.3,0.012],[6060.9,0.03],[6061.5,0.022],[6062.0,0.04],[6062.7,0.019],[6063.3,0.024],[6063.9,0.02],[6064.5,0.018],[6065.0,0.024],[6065.7,0.02],[6066.4,0.024],[6066.9,0.019],[6067.4,0.022],[6068.0,0.02],[6068.6,0.024],
  [6086.0,0.02],[6087.0,0.035],[6088.3,0.015],[6089.5,0.03],[6090.3,0.045],[6091.0,0.012],[6091.9,0.035],[6092.7,0.025],[6093.5,0.045],[6094.3,0.015],[6095.0,0.03],[6095.9,0.02],[6096.7,0.045],[6097.5,0.03],[6098.3,0.015],[6099.1,0.04],[6099.9,0.02],[6100.7,0.035],[6101.5,0.015],[6102.7,0.03],[6103.5,0.02],[6104.3,0.045],[6105.1,0.025],[6105.9,0.012],[6106.7,0.03],[6107.5,0.045],[6108.3,0.03],[6109.1,0.015],[6109.9,0.035],[6110.7,0.045],[6111.5,0.025],[6112.3,0.015],[6113.1,0.035],[6113.9,0.045],[6114.7,0.02],[6115.5,0.012],[6116.3,0.03],[6117.1,0.045],[6117.9,0.02],[6118.7,0.035],[6119.5,0.015],[6120.3,0.045],[6121.1,0.025],[6121.9,0.035],[6122.7,0.015],[6123.5,0.045],[6124.3,0.02],[6125.1,0.035],[6125.9,0.025],[6126.7,0.04],[6127.5,0.015],[6128.3,0.035],[6129.1,0.02],[6129.9,0.04],[6130.7,0.025],[6131.5,0.015],[6132.3,0.03],[6133.1,0.02],[6133.9,0.045],[6134.7,0.035],[6135.5,0.02],[6136.3,0.03],[6137.1,0.04],[6137.9,0.015],[6138.7,0.045],[6139.5,0.025],
  [6140.3,0.035],[6141.1,0.02],[6141.9,0.045],[6142.7,0.035],[6143.5,0.015],[6144.2,0.045],[6145.0,0.03],[6145.8,0.04],[6146.6,0.015],[6147.4,0.03],[6148.2,0.04],[6149.0,0.02],[6149.8,0.03],[6150.6,0.045],[6151.4,0.015],[6152.2,0.035],[6153.0,0.02],[6153.8,0.03],[6154.6,0.04],[6155.4,0.02],[6156.2,0.04],[6157.0,0.015],[6157.8,0.03],[6158.6,0.02],[6159.4,0.035],[6160.2,0.015],[6161.2,0.03],[6162.0,0.02],[6163.2,0.035],[6164.0,0.015],[6165.2,0.03],[6166.0,0.02],[6167.2,0.035],[6168.0,0.02],[6169.2,0.03],[6170.0,0.015],[6171.2,0.025],[6172.0,0.03],[6173.2,0.02],[6174.0,0.035],[6175.2,0.015],[6176.0,0.025],[6177.2,0.03],[6178.0,0.015],[6179.2,0.02],[6180.0,0.025],[6181.2,0.035],[6182.0,0.015],[6183.2,0.025],[6184.0,0.035],[6185.2,0.02],[6186.0,0.012],[6187.2,0.03],[6188.0,0.035],[6189.6,0.015],[6191.2,0.02],[6193.4,0.04],[6195.8,0.015],[6197.4,0.02],[6198.8,0.03],[6199.8,0.015]
];

// Fst: SNPs close to zero
const fstBase = [
  [5960.4,0.004],[5961.6,0.002],[5963.5,0.003],[5964.8,0.005],[5966.0,0.002],[5967.1,0.004],[5968.3,0.006],[5969.4,0.002],[5970.6,0.004],[5971.7,0.003],[5972.9,0.006],[5974.0,0.002],[5975.2,0.004],[5976.3,0.003],[5977.5,0.005],[5978.6,0.002],[5980.8,0.003],[5982.0,0.005],[5983.1,0.002],[5984.3,0.004],[5985.4,0.006],[5986.6,0.003],[5987.7,0.004],[5988.9,0.002],[5990.0,0.005],[5991.2,0.003],[5992.3,0.004],[5993.5,0.002],[5994.6,0.003],[5995.8,0.002],
  [6000.0,0.003],[6001.5,0.005],[6002.8,0.002],[6005.0,0.004],[6006.2,0.003],[6007.5,0.002],[6008.6,0.005],[6009.8,0.003],[6010.9,0.006],[6012.0,0.002],[6013.1,0.004],[6014.3,0.002],[6019.5,0.003],[6020.6,0.005],[6021.8,0.002],[6023.0,0.004],[6024.1,0.006],[6025.3,0.003],[6026.4,0.004],[6027.6,0.002],[6028.7,0.005],[6029.9,0.003],[6031.0,0.004],[6032.2,0.002],[6033.3,0.006],[6034.5,0.003],[6035.6,0.004],[6036.8,0.002],[6037.9,0.005],[6039.1,0.003],
  [6040.2,0.004],[6041.4,0.002],[6042.5,0.006],[6043.7,0.003],[6044.8,0.004],[6046.0,0.002],[6047.1,0.005],[6048.3,0.003],[6049.4,0.004],[6050.6,0.002],[6051.7,0.005],[6052.9,0.003],[6054.0,0.004],[6055.2,0.002],[6056.3,0.005],[6057.5,0.003],[6058.6,0.004],[6059.8,0.002],[6060.9,0.006],[6062.1,0.003],[6063.2,0.004],[6064.4,0.002],[6065.5,0.005],[6066.7,0.003],[6067.8,0.002],[6069.0,0.004],[6070.1,0.003],[6071.3,0.002],[6072.4,0.005],[6073.6,0.003],[6074.7,0.004],[6075.9,0.002],[6077.0,0.003],[6078.2,0.005],[6079.3,0.002],
  [6080.5,0.003],[6082.6,0.004],[6084.5,0.002],[6086.2,0.003],[6087.4,0.005],[6088.5,0.002],[6089.7,0.004],[6090.8,0.006],[6092.0,0.003],[6093.1,0.004],[6094.3,0.002],[6095.4,0.005],[6096.6,0.003],[6097.7,0.004],[6098.9,0.002],[6100.0,0.006],[6101.2,0.003],[6102.3,0.004],[6103.5,0.002],[6104.6,0.005],[6105.8,0.003],[6106.9,0.004],[6108.1,0.002],[6109.2,0.005],[6110.4,0.003],[6111.5,0.006],[6112.7,0.002],[6113.8,0.004],[6115.0,0.003],[6116.1,0.005],[6117.3,0.002],[6118.4,0.004],[6119.6,0.003],
  [6120.7,0.006],[6121.9,0.002],[6123.0,0.004],[6124.2,0.003],[6125.3,0.002],[6126.5,0.004],[6128.6,0.003],[6130.2,0.005],[6131.4,0.002],[6132.5,0.004],[6133.7,0.006],[6134.8,0.003],[6136.0,0.004],[6137.1,0.002],[6138.3,0.005],[6139.4,0.003],[6140.6,0.004],[6141.7,0.002],[6142.9,0.006],[6144.0,0.003],[6145.2,0.004],[6146.3,0.002],[6147.5,0.005],[6148.6,0.003],[6149.8,0.004],[6150.9,0.002],[6152.1,0.005],[6153.2,0.003],[6154.4,0.004],[6155.5,0.002],[6156.7,0.003],[6157.8,0.002],[6159.0,0.004],
  [6160.5,0.003],[6162.1,0.002],[6163.4,0.005],[6164.6,0.003],[6165.7,0.002],[6166.9,0.004],[6168.0,0.003],[6169.2,0.002],[6170.3,0.005],[6171.5,0.003],[6172.6,0.004],[6173.8,0.002],[6175.4,0.003],[6177.1,0.002],[6178.3,0.004],[6179.4,0.003],[6180.6,0.002],[6181.7,0.005],[6182.9,0.003],[6184.0,0.002],[6185.2,0.004],[6186.3,0.003],[6187.5,0.002],[6189.0,0.003],[6190.6,0.002],[6192.1,0.004],[6193.5,0.002],[6195.0,0.003],[6196.6,0.002],[6198.0,0.004],[6199.5,0.003]
];

// transcripts (kb); lane = track row counted from the top
const geneNames = ['ETV4-201', 'PHB-201', 'PHOSPHO1-201', 'ZNF652-201', 'GNGT2-201', '< DHX8-201',
  'ZNF652-202', '< ABI3-201', '< DHX8-202', '< IGF2BP1-201', 'GIP-201', 'HOXB13-201', 'HOXB9-201',
  'GIP-202', '< UBE2Z-201', 'SNF8-201'];
const geneLane = [1.0, 1.18, 1.0, 3.28, 3.5, 7.05, 6.79, 7.05, 10.57, 10.57, 1.73, 0.89, 4.37, 5.26, 7.08, 8.8];
const geneSpan = [[5962.5,5970.7],[5988.4,5993.0],[6033.7,6039.7],[5999.3,6020.9],[6044.8,6047.1],[5975.4,5987.9],
  [6013.3,6020.9],[6041.3,6045.2],[5977.3,5987.9],[6057.3,6082.0],[6092.2,6100.5],[6154.1,6155.9],[6193.1,6197.3],
  [6094.3,6099.4],[6104.4,6114.0],[6096.1,6104.0]];
const geneExons = [
  [[5964.6,5965.1],[5965.6,5965.9],[5967.2,5967.7],[5968.1,5968.4],[5969.3,5969.6],[5969.9,5970.2],[5970.4,5970.7]],
  [[5988.4,5989.0],[5989.3,5989.8],[5990.2,5991.0],[5991.4,5992.0],[5992.3,5993.0]],
  [[6033.7,6034.1],[6034.8,6035.3],[6036.0,6036.3],[6036.5,6036.8]],
  [[5999.3,5999.6],[6013.5,6013.8],[6014.2,6014.4],[6018.2,6018.6],[6019.2,6019.5],[6019.8,6020.1],[6020.4,6020.9]],
  [[6044.8,6045.2],[6045.4,6045.7],[6046.0,6046.6],[6046.8,6047.1]],
  [[5975.4,5975.7],[5978.0,5978.5],[5978.8,5979.4],[5979.7,5980.3],[5980.6,5981.2],[5981.5,5982.1],[5982.4,5983.0],[5983.3,5983.9],[5984.2,5984.8],[5985.1,5985.7],[5986.0,5986.6],[5986.9,5987.9]],
  [[6013.3,6013.8],[6018.2,6018.6],[6019.2,6019.6],[6019.9,6020.3],[6020.5,6020.9]],
  [[6041.3,6041.8],[6042.1,6042.7],[6043.0,6043.6],[6043.9,6044.4],[6044.8,6045.2]],
  [[5977.3,5977.9],[5978.2,5978.8],[5979.1,5979.7],[5980.0,5980.6],[5980.9,5981.5],[5981.8,5982.4],[5982.7,5983.3],[5983.6,5984.2],[5984.5,5985.1],[5985.4,5986.0],[5986.3,5986.9],[5987.2,5987.9]],
  [[6057.3,6057.9],[6058.2,6058.8],[6059.1,6059.7],[6060.0,6060.6],[6060.9,6061.5],[6061.8,6062.4],[6062.7,6063.4],[6080.2,6080.6],[6081.5,6082.0]],
  [[6092.2,6092.5],[6094.2,6094.6],[6095.4,6095.9],[6096.2,6096.5],[6098.5,6098.9]],
  [[6154.1,6154.8],[6155.1,6155.9]],
  [[6193.1,6193.5],[6193.8,6194.3],[6196.9,6197.3]],
  [[6094.3,6094.7],[6095.2,6095.6],[6095.8,6096.2],[6098.7,6099.4]],
  [[6104.4,6104.7],[6105.4,6105.8],[6106.1,6106.5],[6107.2,6107.5],[6108.8,6109.1],[6110.6,6110.9],[6112.3,6112.6],[6113.6,6114.0]],
  [[6096.1,6096.4],[6098.4,6098.8],[6100.0,6100.5],[6100.7,6101.2],[6101.4,6101.9],[6102.1,6102.6],[6102.8,6103.3],[6103.5,6104.0]]
];
// untranslated blocks drawn as open boxes: [gene index, start, end]
const geneUtr = [[2, 6037.8, 6039.7], [10, 6099.7, 6100.5]];
const laneMax = 13.32;

// scale bar under the transcripts (kb)
const rulerSpan = [5963.2, 6200.0];
const rulerBlack = [5970, 5990, 6010, 6030, 6050, 6070, 6090, 6110, 6130, 6150, 6170, 6190];

// nucleotide diversity in 10 kb windows (window start, kb)
const piWindowKb = [
  5000,5010,5020,5030,5040,5050,5060,5070,5080,5090,
  5100,5110,5120,5130,5140,5150,5160,5170,5180,5190,
  5200,5210,5220,5230,5240,5250,5260,5270,5280,5290,
  5300,5310,5320,5330,5340,5350,5360,5370,5380,5390,
  5400,5410,5420,5430,5440,5450,5460,5470,5480,5490,
  5500,5510,5520,5530,5540,5550,5560,5570,5580,5590,
  5600,5610,5620,5630,5640,5650,5660,5670,5680,5690,
  5700,5710,5720,5730,5740,5750,5760,5770,5780,5790,
  5800,5810,5820,5830,5840,5850,5860,5870,5880,5890,
  5900,5910,5920,5930,5940,5950,5960,5970,5980,5990,
  6000,6010,6020,6030,6040,6050,6060,6070,6080,6090,
  6100,6110,6120,6130,6140,6150,6160,6170,6180,6190
];
const piSelection = [
  0.00521,0.00480,0.00417,0.00413,0.00402,0.00396,0.00413,0.00369,0.00384,0.00401,
  0.00390,0.00427,0.00376,0.00394,0.00394,0.00371,0.00430,0.00380,0.00394,0.00367,
  0.00342,0.00401,0.00409,0.00434,0.00467,0.00526,0.00487,0.00487,0.00461,0.00384,
  0.00447,0.00441,0.00426,0.00363,0.00351,0.00355,0.00399,0.00412,0.00330,0.00238,
  0.00142,0.00119,0.00090,0.00098,0.00082,0.00048,0.00088,0.00117,0.00159,0.00209,
  0.00188,0.00150,0.00115,0.00112,0.00120,0.00120,0.00117,0.00131,0.00117,0.00160,
  0.00242,0.00376,0.00451,0.00501,0.00480,0.00443,0.00430,0.00402,0.00420,0.00342,
  0.00376,0.00376,0.00352,0.00352,0.00321,0.00311,0.00330,0.00359,0.00419,0.00443,
  0.00444,0.00451,0.00429,0.00432,0.00451,0.00451,0.00441,0.00454,0.00432,0.00437,
  0.00397,0.00397,0.00384,0.00317,0.00344,0.00276,0.00236,0.00266,0.00237,0.00252,
  0.00269,0.00240,0.00240,0.00247,0.00227,0.00211,0.00236,0.00211,0.00248,0.00277,
  0.00271,0.00326,0.00305,0.00311,0.00267,0.00190,0.00142,0.00094,0.00082,0.00065
];
const piControl = [
  0.00501,0.00476,0.00409,0.00402,0.00401,0.00377,0.00398,0.00362,0.00374,0.00399,
  0.00388,0.00419,0.00369,0.00376,0.00371,0.00357,0.00424,0.00388,0.00419,0.00396,
  0.00367,0.00412,0.00412,0.00419,0.00427,0.00482,0.00449,0.00459,0.00455,0.00396,
  0.00451,0.00441,0.00430,0.00359,0.00334,0.00351,0.00376,0.00391,0.00317,0.00234,
  0.00142,0.00113,0.00085,0.00092,0.00079,0.00043,0.00088,0.00119,0.00167,0.00210,
  0.00192,0.00152,0.00121,0.00121,0.00138,0.00140,0.00135,0.00152,0.00144,0.00184,
  0.00292,0.00417,0.00484,0.00534,0.00501,0.00469,0.00461,0.00453,0.00488,0.00404,
  0.00429,0.00416,0.00377,0.00369,0.00336,0.00329,0.00347,0.00388,0.00468,0.00484,
  0.00488,0.00482,0.00448,0.00453,0.00471,0.00471,0.00468,0.00484,0.00466,0.00470,
  0.00440,0.00438,0.00426,0.00380,0.00381,0.00296,0.00271,0.00271,0.00260,0.00282,
  0.00301,0.00302,0.00307,0.00329,0.00326,0.00291,0.00303,0.00267,0.00300,0.00336,
  0.00328,0.00390,0.00369,0.00381,0.00342,0.00250,0.00188,0.00127,0.00110,0.00085
];
const piTicks = [5000000, 5250000, 5500000, 5750000, 6000000, 6250000];
const piYTicks = [0, 0.0025, 0.005, 0.0075, 0.01];
const arrowMark = [6025.5, 0.0019, 0.0010]; // position kb, tip, base

// ---------- layout / style ----------
const SERIF = "'Liberation Serif', 'Times New Roman', serif";
const SANS = "'Liberation Sans', Arial, sans-serif";
Chart.defaults.font.family = SERIF;
Chart.defaults.color = '#000';

const bp = kb => kb * 1000;
const toXY = list => list.map(p => ({x: bp(p[0]), y: p[1]}));
const zip = (xs, ys) => xs.map((x, i) => ({x: bp(x), y: ys[i]}));
const setTicks = values => scale => { scale.ticks = values.map(v => ({value: v})); };

const mhLabelOffsets = [[-14,-51],[21,-2],[-214,-31],[-7,-24],[-49,-30],[-150,-31],[-134,33],[-261,-37],[26,-11]];
const fstLabelOffsets = [null, null, null, [25,-9], null];

function snpText(ids, kbs, vals, offsets) {
  return {
    id: 'snpText',
    afterDatasetsDraw(chart) {
      const {ctx, scales: {x, y}} = chart;
      ctx.save();
      ctx.font = '50px ' + SERIF;
      ctx.fillStyle = '#000';
      ctx.textBaseline = 'middle';
      ctx.textAlign = 'left';
      ids.forEach((id, i) => {
        if (!id || !offsets[i]) return;
        const px = x.getPixelForValue(bp(kbs[i]));
        const py = y.getPixelForValue(vals[i]);
        ctx.fillText(id, px + offsets[i][0], py + offsets[i][1]);
      });
      ctx.restore();
    }
  };
}

const baseOpts = {responsive: false, devicePixelRatio: 1, animation: false, events: []};
const tickFont = size => ({size: size, weight: 'bold', family: SERIF});
const lineSet = (data, color, width, extra) => Object.assign({
  data: data, showLine: true, borderColor: color, borderWidth: width, pointRadius: 0,
  spanGaps: false, fill: false, borderCapStyle: 'butt', clip: false
}, extra || {});

// ---------- association panel ----------
new Chart(document.getElementById('mh'), {
  type: 'scatter',
  data: {
    datasets: [
      {data: zip(snpKb, snpLogP), backgroundColor: '#22d622', pointRadius: 6.5, borderWidth: 0, clip: false},
      {data: toXY(mhSignal.concat(mhBase)), backgroundColor: '#d61e1e', pointRadius: 6.5, borderWidth: 0, clip: false}
    ]
  },
  options: Object.assign({}, baseOpts, {
    layout: {padding: {top: 223, right: 309, left: 0, bottom: 0}},
    plugins: {legend: {display: false}, tooltip: {enabled: false}},
    scales: {
      x: {
        type: 'linear', min: 5960000, max: 6200000,
        afterBuildTicks: setTicks(posTicks),
        afterFit: s => { s.height = 261; },
        ticks: {callback: v => String(v), font: tickFont(62), padding: 0, maxRotation: 0, autoSkip: false},
        grid: {display: true, drawOnChartArea: false, tickLength: 28, tickColor: '#9a9a9a', tickWidth: 3},
        border: {display: true, color: '#c4c4c4', width: 9},
        title: {display: true, text: 'Chromosome 27 position', font: tickFont(62), padding: {top: 0, bottom: 45}}
      },
      y: {
        min: 0, max: 8,
        afterFit: s => { s.width = 276; },
        ticks: {stepSize: 2, font: tickFont(62), padding: 6},
        grid: {display: true, drawOnChartArea: false, tickLength: 18, tickColor: '#9a9a9a', tickWidth: 3},
        border: {display: true, color: '#b5b5b5', width: 5},
        title: {display: true, text: '-log10(observed P-values)', font: tickFont(62), padding: {top: 129, bottom: 0}}
      }
    }
  }),
  plugins: [snpText(snpIds, snpKb, snpLogP, mhLabelOffsets)]
});

// ---------- Fst panel ----------
new Chart(document.getElementById('fst'), {
  type: 'scatter',
  data: {
    datasets: [
      {data: [{x: 5960000, y: fstThreshold}, {x: 6199500, y: fstThreshold}], showLine: true, borderColor: '#333',
        borderWidth: 4, borderDash: [13, 9], pointRadius: 0, fill: false},
      {data: zip(fstHitKb, fstHitVal), backgroundColor: '#19c419', pointRadius: 6, borderWidth: 0, clip: false},
      {data: toXY(fstHigh.concat(fstLow, fstLowDense, fstBase)), backgroundColor: '#56c6f5', pointRadius: 6, borderWidth: 0, clip: false}
    ]
  },
  options: Object.assign({}, baseOpts, {
    layout: {padding: {top: 56, right: 323, left: 0, bottom: 0}},
    plugins: {legend: {display: false}, tooltip: {enabled: false}},
    scales: {
      x: {
        type: 'linear', min: 5960000, max: 6200000,
        afterBuildTicks: setTicks(posTicks),
        afterFit: s => { s.height = 233; },
        ticks: {callback: v => String(v), font: tickFont(62), padding: 0, maxRotation: 0, autoSkip: false},
        grid: {display: true, drawOnChartArea: false, tickLength: 18, tickColor: '#777', tickWidth: 3},
        border: {display: true, color: '#808080', width: 5},
        title: {display: true, text: 'Chromosome 27 position', font: tickFont(62), padding: {top: 0, bottom: 29}}
      },
      y: {
        min: 0, max: 0.3,
        afterFit: s => { s.width = 292; },
        ticks: {stepSize: 0.05, font: tickFont(62), padding: 6, callback: v => v === 0 ? '0' : v.toFixed(2)},
        grid: {display: true, drawOnChartArea: false, tickLength: 20, tickColor: '#777', tickWidth: 3},
        border: {display: true, color: '#777', width: 4},
        title: {display: true, text: 'Fst', font: tickFont(62), padding: {top: 68, bottom: 0}}
      }
    }
  }),
  plugins: [snpText(fstHitIds, fstHitKb, fstHitVal, fstLabelOffsets)]
});

// ---------- transcript track ----------
const exonPts = [], intronPts = [], utrPts = [];
geneNames.forEach((name, g) => {
  const lane = geneLane[g];
  intronPts.push({x: bp(geneSpan[g][0]), y: lane}, {x: bp(geneSpan[g][1]), y: lane}, {x: bp(geneSpan[g][1]), y: null});
  geneExons[g].forEach(e => {
    exonPts.push({x: bp(e[0]), y: lane}, {x: bp(e[1]), y: lane}, {x: bp(e[1]), y: null});
  });
});
geneUtr.forEach(u => {
  const lane = geneLane[u[0]];
  utrPts.push({x: bp(u[1]), y: lane - 0.25}, {x: bp(u[2]), y: lane - 0.25}, {x: bp(u[2]), y: lane + 0.25},
    {x: bp(u[1]), y: lane + 0.25}, {x: bp(u[1]), y: lane - 0.25}, {x: bp(u[1]), y: null});
});
const rulerPts = [];
rulerBlack.forEach(s => { rulerPts.push({x: bp(s), y: laneMax}, {x: bp(s + 10), y: laneMax}, {x: bp(s + 10), y: null}); });

const geneText = {
  id: 'geneText',
  afterDatasetsDraw(chart) {
    const {ctx, scales: {x, y}} = chart;
    ctx.save();
    ctx.font = 'bold 37px ' + SANS;
    ctx.fillStyle = '#8b0a0a';
    ctx.textBaseline = 'middle';
    geneNames.forEach((name, g) => {
      const py = y.getPixelForValue(geneLane[g]) + 53;
      if (name === 'HOXB9-201') {
        ctx.textAlign = 'right';
        ctx.fillText(name, x.getPixelForValue(bp(geneSpan[g][1])) + 25, py);
      } else {
        ctx.textAlign = 'left';
        ctx.fillText(name, x.getPixelForValue(bp(geneSpan[g][0])) + 3, py);
      }
    });
    ctx.restore();
  }
};

new Chart(document.getElementById('genes'), {
  type: 'scatter',
  data: {
    datasets: [
      lineSet(exonPts, '#c00000', 30),
      lineSet(utrPts, '#d02020', 4),
      lineSet(intronPts, '#e35a5a', 3),
      lineSet(rulerPts, '#000', 11),
      lineSet([{x: bp(rulerSpan[0]), y: laneMax}, {x: bp(rulerSpan[1]), y: laneMax}], '#c6c6c6', 16)
    ]
  },
  options: Object.assign({}, baseOpts, {
    layout: {padding: {top: 40, right: 271, left: 312, bottom: 0}},
    plugins: {legend: {display: false}, tooltip: {enabled: false}},
    scales: {
      x: {
        type: 'linear', min: 5960000, max: 6200000,
        afterBuildTicks: setTicks(posTicks),
        afterFit: s => { s.height = 238; },
        ticks: {callback: v => String(v), font: tickFont(62), padding: 6, maxRotation: 0, autoSkip: false},
        grid: {display: true, drawOnChartArea: false, tickLength: 18, tickColor: '#222', tickWidth: 3},
        border: {display: false},
        title: {display: true, text: 'Chromosome 27 position', font: tickFont(62), padding: {top: 0, bottom: 3}}
      },
      y: {display: false, min: 0, max: laneMax, reverse: true}
    }
  }),
  plugins: [geneText]
});

// ---------- nucleotide diversity panel ----------
const piDecor = {
  id: 'piDecor',
  beforeDatasetsDraw(chart) {
    const {ctx, chartArea: a} = chart;
    ctx.save();
    ctx.strokeStyle = '#808080';
    ctx.lineWidth = 5;
    ctx.strokeRect(a.left, a.top, a.right - a.left, a.bottom - a.top);
    ctx.restore();
  },
  afterDatasetsDraw(chart) {
    const {ctx, chartArea: a, scales: {x, y}} = chart;
    ctx.save();
    // arrow marking the candidate region
    const ax = x.getPixelForValue(bp(arrowMark[0]));
    const tip = y.getPixelForValue(arrowMark[1]);
    const base = y.getPixelForValue(arrowMark[2]);
    ctx.fillStyle = '#ff1a1a';
    ctx.beginPath();
    ctx.moveTo(ax, tip); ctx.lineTo(ax + 18, tip + 58); ctx.lineTo(ax + 12, tip + 58);
    ctx.lineTo(ax + 12, base); ctx.lineTo(ax - 12, base); ctx.lineTo(ax - 12, tip + 58);
    ctx.lineTo(ax - 18, tip + 58); ctx.closePath(); ctx.fill();
    // legend
    const lx = a.right + 67;
    const mid = (a.top + a.bottom) / 2;
    const items = [[chart.data.datasets[1], 3], [chart.data.datasets[0], 69]];
    ctx.font = '40px ' + SANS;
    ctx.textBaseline = 'middle';
    ctx.textAlign = 'left';
    items.forEach(([ds, dy]) => {
      ctx.strokeStyle = ds.borderColor;
      ctx.lineWidth = ds.borderWidth + 1;
      ctx.beginPath(); ctx.moveTo(lx, mid + dy); ctx.lineTo(lx + 58, mid + dy); ctx.stroke();
      ctx.fillStyle = '#333';
      ctx.fillText(ds.label, lx + 87, mid + dy);
    });
    // axis title, centred on plot plus legend
    ctx.font = 'bold 51px ' + SERIF;
    ctx.fillStyle = '#000';
    ctx.textAlign = 'center';
    ctx.fillText('Chromosome 27 position', (a.left + a.right + 204) / 2, a.bottom + 102);
    ctx.restore();
  }
};

new Chart(document.getElementById('pi'), {
  type: 'scatter',
  data: {
    datasets: [
      lineSet(zip(piWindowKb, piControl), '#00bfff', 5.5, {label: 'control line', borderCapStyle: 'round', borderJoinStyle: 'round'}),
      lineSet(zip(piWindowKb, piSelection), '#ff8a8a', 4, {label: 'selection line', borderCapStyle: 'round', borderJoinStyle: 'round'})
    ]
  },
  options: Object.assign({}, baseOpts, {
    layout: {padding: {top: 260, right: 420, left: 0, bottom: 0}},
    plugins: {legend: {display: false}, tooltip: {enabled: false}},
    scales: {
      x: {
        type: 'linear', min: 4939000, max: 6257000,
        afterBuildTicks: setTicks(piTicks),
        afterFit: s => { s.height = 159; },
        ticks: {callback: v => String(v), font: tickFont(52), padding: 0, maxRotation: 0, autoSkip: false},
        grid: {display: true, drawOnChartArea: false, tickLength: 10, tickColor: '#808080', tickWidth: 3},
        border: {display: false}
      },
      y: {
        min: -0.0005, max: 0.0105,
        afterBuildTicks: setTicks(piYTicks),
        afterFit: s => { s.width = 297; },
        ticks: {font: tickFont(50), padding: 3, callback: v => v.toFixed(4)},
        grid: {display: true, drawOnChartArea: false, tickLength: 10, tickColor: '#808080', tickWidth: 3},
        border: {display: false},
        title: {display: true, text: 'Pi', font: tickFont(52), padding: {top: 60, bottom: 0}}
      }
    }
  }),
  plugins: [piDecor]
});
</script>
</body>
</html>
